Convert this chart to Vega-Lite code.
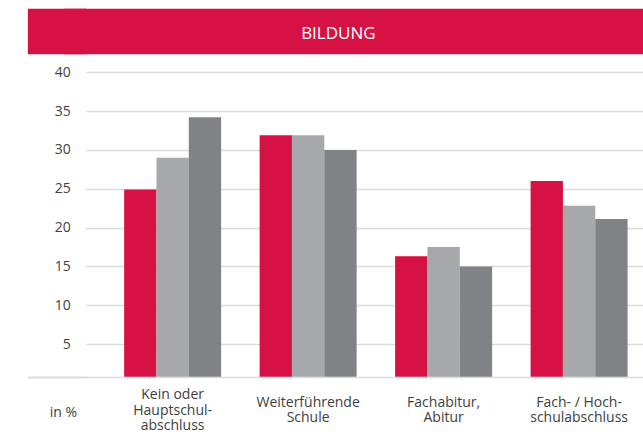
{
  "$schema": "https://vega.github.io/schema/vega-lite/v6.json",
  "padding": {"left": 4.35, "top": 8, "right": 0, "bottom": 0},
  "width": 557,
  "height": 368.7,
  "config": {
    "font": "Open Sans",
    "view": {"stroke": null}
  },
  "data": {
    "values": [
      {"cat": "Kein oder|Hauptschul-|abschluss", "series": "Reihe 1", "value": 24.9},
      {"cat": "Kein oder|Hauptschul-|abschluss", "series": "Reihe 2", "value": 29.0},
      {"cat": "Kein oder|Hauptschul-|abschluss", "series": "Reihe 3", "value": 34.2},
      {"cat": "Weiterführende|Schule", "series": "Reihe 1", "value": 31.9},
      {"cat": "Weiterführende|Schule", "series": "Reihe 2", "value": 31.9},
      {"cat": "Weiterführende|Schule", "series": "Reihe 3", "value": 30.0},
      {"cat": "Fachabitur,|Abitur", "series": "Reihe 1", "value": 16.3},
      {"cat": "Fachabitur,|Abitur", "series": "Reihe 2", "value": 17.5},
      {"cat": "Fachabitur,|Abitur", "series": "Reihe 3", "value": 15.0},
      {"cat": "Fach- / Hoch-|schulabschluss", "series": "Reihe 1", "value": 26.0},
      {"cat": "Fach- / Hoch-|schulabschluss", "series": "Reihe 2", "value": 22.8},
      {"cat": "Fach- / Hoch-|schulabschluss", "series": "Reihe 3", "value": 21.1}
    ]
  },
  "layer": [
    {
      "mark": {"type": "bar"},
      "encoding": {
        "x": {
          "field": "cat",
          "type": "nominal",
          "sort": null,
          "scale": {"paddingInner": 0.284, "paddingOuter": 0.1975, "align": 0.706},
          "axis": {
            "title": "in %",
            "titleFontSize": 14,
            "titleFontWeight": "normal",
            "titleColor": "#404040",
            "titleFont": "Open Sans",
            "titleAlign": "center",
            "titleBaseline": "alphabetic",
            "titleX": -23.5,
            "titleY": 40,
            "labelExpr": "split(datum.label, '|')",
            "labelAngle": 0,
            "labelBaseline": "top",
            "labelLineHeight": 15.5,
            "labelFontSize": 14,
            "labelColor": "#404040",
            "labelFont": "Open Sans",
            "labelPadding": {"condition": {"test": "length(split(datum.label, '|')) > 2", "value": 11}, "value": 18.5},
            "ticks": false,
            "domain": false,
            "grid": false
          }
        },
        "xOffset": {"field": "series", "type": "nominal", "scale": {"paddingInner": 0, "paddingOuter": 0}},
        "y": {
          "field": "value",
          "type": "quantitative",
          "scale": {"domain": [0.8, 48.28], "nice": false, "zero": false, "clamp": true},
          "axis": {
            "title": null,
            "values": [0.8, 5, 10, 15, 20, 25, 30, 35, 40, 45.36],
            "labelExpr": "(datum.value < 1 || datum.value > 41) ? '' : datum.label",
            "labelFontSize": 14,
            "labelColor": "#404040",
            "labelFont": "Open Sans",
            "labelPadding": -43,
            "tickSize": 59,
            "tickCap": "butt",
            "tickColor": {"condition": {"test": "datum.value > 41", "value": "#D61245"}, "value": "#dcdcdc"},
            "tickWidth": {"condition": {"test": "datum.value > 41", "value": 45.3}, "value": 2},
            "tickOpacity": {"condition": {"test": "datum.value < 1 || datum.value > 41", "value": 1}, "value": 0},
            "domain": false,
            "grid": true,
            "gridCap": "square",
            "gridColor": {"condition": {"test": "datum.value > 41", "value": "#D61245"}, "value": "#dcdcdc"},
            "gridWidth": {"condition": {"test": "datum.value > 41", "value": 45.3}, "value": 1.5}
          }
        },
        "color": {
          "field": "series",
          "type": "nominal",
          "scale": {"range": ["#D61245", "#A7A8AC", "#808285"]},
          "legend": null
        }
      }
    },
    {
      "data": {"values": [{"title": "BILDUNG"}]},
      "mark": {"type": "text", "color": "#ffffff", "fontSize": 17, "font": "Open Sans", "baseline": "alphabetic", "align": "center", "dx": -26.5, "dy": 8.4},
      "encoding": {
        "text": {"field": "title", "type": "nominal"},
        "y": {"datum": 45.36, "type": "quantitative"}
      }
    }
  ]
}
